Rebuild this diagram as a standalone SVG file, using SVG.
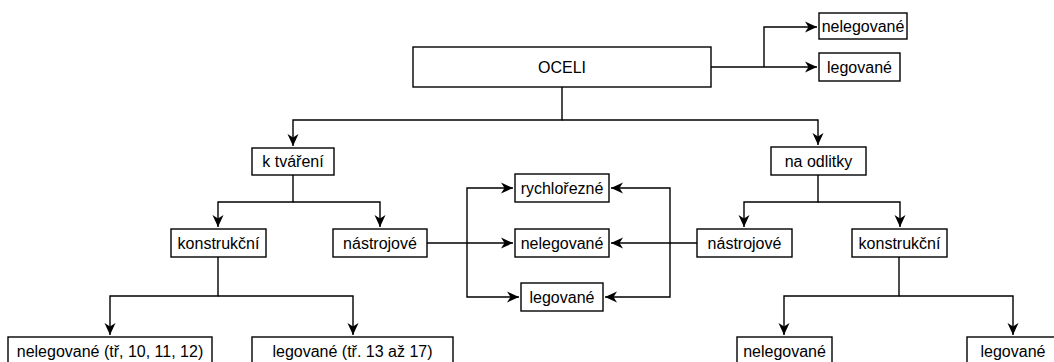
<svg xmlns="http://www.w3.org/2000/svg" width="1054" height="362" viewBox="0 0 1054 362">
<style>
.box{fill:#fff;stroke:#000;stroke-width:1.4}
.lbl{font-family:"Liberation Sans",Arial,sans-serif;font-size:16px;fill:#000;text-anchor:middle}
.con{fill:none;stroke:#000;stroke-width:1.4}
</style>
<defs>
<marker id="arr" markerUnits="userSpaceOnUse" markerWidth="14" markerHeight="14" viewBox="-12 -7 14 14" refX="0" refY="0" orient="auto">
<path d="M0,0 L-12,-5.5 L-8.5,0 L-12,5.5 Z" fill="#000"/>
</marker>
</defs>
<rect width="1054" height="362" fill="#fff"/>
<g id="connectors">
<path class="con" d="M711,67 H817" marker-end="url(#arr)"/>
<path class="con" d="M764,67 V27 H817" marker-end="url(#arr)"/>
<path class="con" d="M562,87 V120 H293 V146" marker-end="url(#arr)"/>
<path class="con" d="M562,120 H818 V145" marker-end="url(#arr)"/>
<path class="con" d="M293,175 V202 H218 V227" marker-end="url(#arr)"/>
<path class="con" d="M293,202 H380 V227" marker-end="url(#arr)"/>
<path class="con" d="M818,175 V202 H744 V227" marker-end="url(#arr)"/>
<path class="con" d="M818,202 H900 V227" marker-end="url(#arr)"/>
<path class="con" d="M427,243 H513" marker-end="url(#arr)"/>
<path class="con" d="M467,243 V188 H513" marker-end="url(#arr)"/>
<path class="con" d="M467,243 V297 H519" marker-end="url(#arr)"/>
<path class="con" d="M697,243 H611" marker-end="url(#arr)"/>
<path class="con" d="M670,243 V188 H611" marker-end="url(#arr)"/>
<path class="con" d="M670,243 V297 H605" marker-end="url(#arr)"/>
<path class="con" d="M218,257 V296 H110 V335" marker-end="url(#arr)"/>
<path class="con" d="M218,296 H353 V335" marker-end="url(#arr)"/>
<path class="con" d="M899,257 V296 H784 V335" marker-end="url(#arr)"/>
<path class="con" d="M899,296 H1013 V335" marker-end="url(#arr)"/>
</g>
<g id="oceli"><rect class="box" x="413" y="47" width="298" height="40"/><text class="lbl" x="562" y="72.5">OCELI</text></g>
<g id="top-nelegovane"><rect class="box" x="819" y="13" width="88" height="26"/><text class="lbl" x="863" y="31.5">nelegované</text></g>
<g id="top-legovane"><rect class="box" x="819" y="53" width="81" height="28"/><text class="lbl" x="859.5" y="72.5">legované</text></g>
<g id="k-tvareni"><rect class="box" x="252" y="148" width="82" height="27"/><text class="lbl" x="293" y="167">k tváření</text></g>
<g id="na-odlitky"><rect class="box" x="771" y="147" width="95" height="28"/><text class="lbl" x="818.5" y="166.5">na odlitky</text></g>
<g id="konstrukcni-left"><rect class="box" x="171" y="229" width="95" height="28"/><text class="lbl" x="218.5" y="248.5">konstrukční</text></g>
<g id="nastrojove-left"><rect class="box" x="333" y="229" width="94" height="28"/><text class="lbl" x="380" y="248.5">nástrojové</text></g>
<g id="nastrojove-right"><rect class="box" x="697" y="229" width="95" height="28"/><text class="lbl" x="744.5" y="248.5">nástrojové</text></g>
<g id="konstrukcni-right"><rect class="box" x="852" y="229" width="95" height="28"/><text class="lbl" x="899.5" y="248.5">konstrukční</text></g>
<g id="rychlorezne"><rect class="box" x="515" y="174" width="94" height="28"/><text class="lbl" x="562" y="193.5">rychlořezné</text></g>
<g id="mid-nelegovane"><rect class="box" x="515" y="229" width="94" height="28"/><text class="lbl" x="562" y="248.5">nelegované</text></g>
<g id="mid-legovane"><rect class="box" x="521" y="283" width="82" height="28"/><text class="lbl" x="562" y="302.5">legované</text></g>
<g id="bl-nelegovane"><rect class="box" x="8" y="337" width="204" height="28"/><text class="lbl" x="110" y="356.5">nelegované (tř, 10, 11, 12)</text></g>
<g id="bl-legovane"><rect class="box" x="252" y="337" width="201" height="28"/><text class="lbl" x="352.5" y="356.5">legované (tř. 13 až 17)</text></g>
<g id="br-nelegovane"><rect class="box" x="737" y="337" width="95" height="28"/><text class="lbl" x="784.5" y="356.5">nelegované</text></g>
<g id="br-legovane"><rect class="box" x="967" y="337" width="92" height="28"/><text class="lbl" x="1013" y="356.5">legované</text></g>
</svg>
